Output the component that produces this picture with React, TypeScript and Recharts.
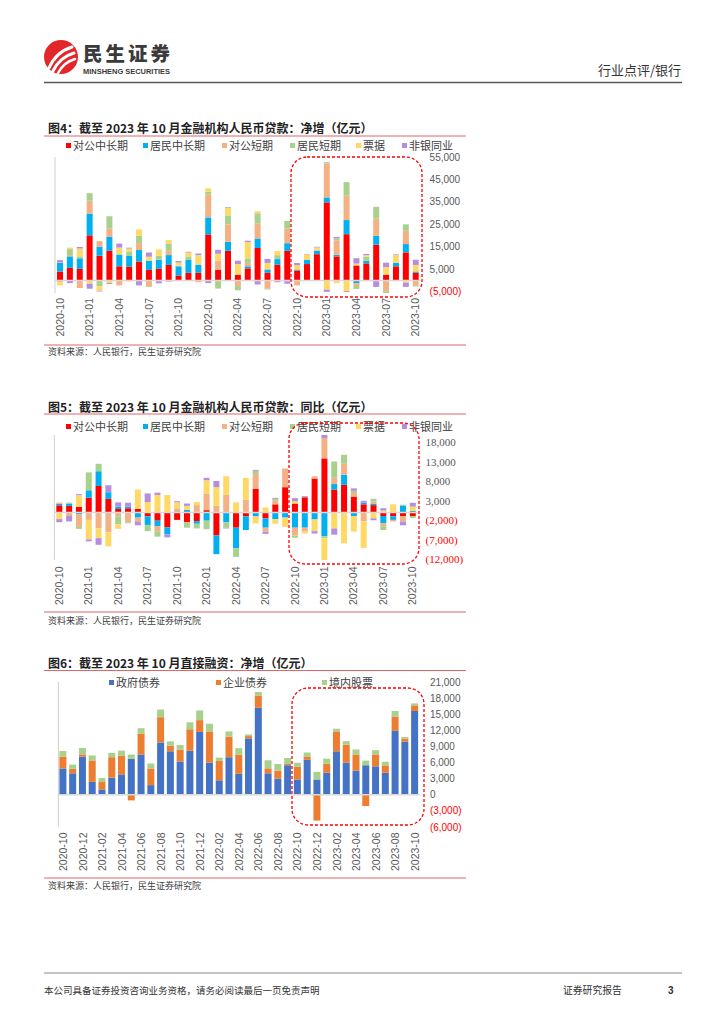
import React from 'react';
import { BarChart, Bar, XAxis, YAxis, ReferenceLine } from 'recharts';

const FONT_CN = '"Noto Sans CJK SC", "Noto Sans", sans-serif';
const FONT_NUM = '"Liberation Sans", Arial, sans-serif';
const FONT_SERIF = '"Liberation Serif", "DejaVu Serif", serif';

// categories
const months = [
  '2020-10', '2020-11', '2020-12', '2021-01', '2021-02', '2021-03', '2021-04', '2021-05', '2021-06', '2021-07',
  '2021-08', '2021-09', '2021-10', '2021-11', '2021-12', '2022-01', '2022-02', '2022-03', '2022-04', '2022-05',
  '2022-06', '2022-07', '2022-08', '2022-09', '2022-10', '2022-11', '2022-12', '2023-01', '2023-02', '2023-03',
  '2023-04', '2023-05', '2023-06', '2023-07', '2023-08', '2023-09', '2023-10',
];

const loanSeries = ['对公中长期', '居民中长期', '对公短期', '居民短期', '票据', '非银同业'];
const loanColors = ['#FF0000', '#00B0F0', '#F4B183', '#A9D18E', '#FFD966', '#B48FE0'];

// 图4 净增
const netCorpLong = [3960, 5580, 5140, 20100, 11000, 13200, 6300, 6200, 8400, 4700, 5140, 6900, 2200, 3400, 3400, 20500, 4800, 13200, 2500, 5400, 14400, 3400, 7000, 13200, 4400, 7300, 11700, 34800, 10700, 20600, 6700, 7600, 15900, 2500, 6300, 12500, 3400];
const netHouseLong = [3800, 5140, 4700, 9700, 4000, 6200, 5140, 4700, 5140, 4100, 4100, 4400, 4100, 5700, 3500, 7600, -200, 4000, -300, 900, 4300, 1500, 2500, 3400, 400, 1800, 1500, 2200, 700, 6300, -1200, 1200, 4000, -400, 1500, 3700, 600];
const netCorpShort = [-800, 600, -3400, 5700, 2500, 3800, -2200, -400, 3100, -2600, -300, 1900, -300, 0, -800, 10300, 4000, 7800, -2200, 1500, 6800, -3700, -300, 6500, -2200, -200, 300, 15100, 6500, 11000, -1300, -300, 7600, -4400, -300, 5900, -2200];
const netHouseShort = [300, 2640, 900, 3400, -2600, 5400, 300, 2000, 3200, -300, 1700, 3200, 200, 1600, 300, 1200, -3400, 4000, -1900, 2000, 4400, -300, 1760, 3400, 200, 300, 200, 600, 900, 5900, -1300, 1800, 5300, -800, 200, 2900, -500];
const netBills = [-1400, 700, 3500, -1500, -2000, -1200, 2900, 1300, 2900, 1760, 2900, 1600, 1470, 1760, 4100, 1470, 3100, 3400, 4800, 7300, 900, 2900, 1900, -300, 1760, 2200, 1000, -4100, -1200, -4700, 800, 700, -300, 3400, 3300, -1000, 2900];
const netNonBank = [1000, -1200, 700, -2200, -300, -400, 1760, 400, -2200, 1900, -1000, -500, 700, 300, 700, -1200, 1760, 300, 1500, 600, -1800, 1800, -500, -1200, 1000, 200, 300, -1000, 600, -400, 2400, 500, -2600, 2000, 300, -1900, 2300];

// 图5 同比
const yoyCorpLong = [1840, 1700, 1450, 3800, 6800, 3500, 900, 1100, 900, -1000, -2100, -3800, -1900, -2500, -2200, 600, -5900, 0, -3900, -1000, 6100, -1500, 2100, 6500, 2300, 3900, 8700, 13900, 5900, 7100, 4100, 2100, 1900, -900, -1000, -900, -900];
const yoyHouseLong = [400, 600, -500, 1900, 3800, 1700, 600, 400, -1300, -2200, -1400, -1800, 300, 700, -700, -2100, -4800, -2500, -5300, -3500, -1000, -2400, -1700, -1300, -3900, -3900, -1800, -6100, 1400, 2600, -900, 400, 400, -1900, -900, 1800, 400];
const yoyCorpShort = [300, -900, -3200, -1900, -4100, -5100, -1000, -2500, -1000, 0, -1300, 0, 600, 0, 1900, 4300, 1700, 4500, 0, 3300, 3800, -1000, 900, 4800, -2000, -1000, 600, 5200, 1600, 2800, 900, -2300, 500, -700, -400, -1400, 0];
const yoyHouseShort = [0, 250, -500, 4600, 1900, 0, -2000, -250, 0, -1600, -1400, 0, 0, -1400, -1200, -2200, 0, -1400, -2200, 0, 800, 0, 500, 0, -600, 0, 0, -500, 4200, 2300, 550, 0, 700, -1000, 0, 200, -500];
const yoyBills = [-1700, 0, 3000, -5000, -2500, -3600, -1200, 0, 5000, 2700, 4500, 4500, 1700, 1000, 800, 3400, 4800, 4800, 2600, 5600, -1800, 1300, -1200, -2400, 600, -500, -3000, -5600, -4100, -7900, -4000, -6800, -1500, 500, 2100, 0, 1100];
const yoyNonBank = [-800, -1400, 250, -500, -1700, 1800, 1100, 1000, -1000, 2200, 600, -800, 300, 600, 0, 600, 1600, -200, 0, 0, 250, -600, 250, 0, 800, 300, -600, 800, -1600, 0, 650, 500, -500, 600, 0, -1000, 1000];

// 图6 直接融资
const finSeries = ['政府债券', '企业债券', '境内股票'];
const finColors = ['#4472C4', '#ED7D31', '#A9D18E'];
const govBonds = [4900, 4000, 7100, 2400, 1000, 3200, 3800, 6700, 7500, 1800, 9750, 8100, 6200, 8200, 11700, 6000, 2700, 7000, 3900, 10500, 16200, 4000, 3000, 5500, 2850, 6500, 2850, 4100, 8100, 6000, 4500, 5500, 5300, 4100, 11900, 9900, 15600];
const corpBonds = [2200, 870, 430, 4000, 1370, 3800, 3500, -1050, 3900, 3100, 4700, 1050, 2200, 4000, 2200, 5800, 3600, 3800, 3600, 430, 2300, 930, 1500, 250, 2360, 620, -4800, 1700, 3700, 3300, 3000, -2100, 2200, 1370, 2600, 560, 1050];
const equities = [1050, 750, 1180, 930, 750, 800, 930, 800, 1000, 930, 1430, 800, 870, 1300, 1800, 1430, 620, 1000, 1180, 300, 620, 1500, 1240, 1100, 750, 750, 1430, 930, 500, 680, 930, 870, 800, 680, 1100, 310, 370];

const netTicks = [-5000, 5000, 15000, 25000, 35000, 45000, 55000];
const yoyTicks = [-12000, -7000, -2000, 3000, 8000, 13000, 18000];
const finTicks = [-6000, -3000, 0, 3000, 6000, 9000, 12000, 15000, 18000, 21000];

const sourceText = '资料来源：人民银行，民生证券研究院';

const buildRows = (cols: number[][]) =>
  months.map((m, i) => {
    const row: Record<string, string | number> = { month: m };
    cols.forEach((c, j) => {
      row['s' + j] = c[i];
    });
    return row;
  });

const netRows = buildRows([netCorpLong, netHouseLong, netCorpShort, netHouseShort, netBills, netNonBank]);
const yoyRows = buildRows([yoyCorpLong, yoyHouseLong, yoyCorpShort, yoyHouseShort, yoyBills, yoyNonBank]);
const finRows = buildRows([govBonds, corpBonds, equities]);

const fmt = (v: number) => {
  const s = Math.abs(v).toString().replace(/\B(?=(\d{3})+(?!\d))/g, ',');
  return v < 0 ? `(${s})` : s;
};

type ChartProps = {
  data: Record<string, string | number>[];
  count: number;
  colors: string[];
  domain: [number, number];
  ticks: number[];
  top: number;
  width: number;
  height: number;
  margin: { top: number; right: number; bottom: number; left: number };
  xHeight: number;
  interval: number;
  barSize: number;
  tickFont: string;
  tickFontSize: number;
  tickDx: number;
  labelDy: number;
};

function StackChart(p: ChartProps) {
  const yTick = (props: any) => {
    const v = Number(props.payload.value);
    return (
      <text x={props.x + p.tickDx} y={props.y} dy="0.35em" textAnchor="start" fontFamily={p.tickFont}
        fontSize={p.tickFontSize} fill={v < 0 ? '#FF0000' : '#595959'}>
        {fmt(v)}
      </text>
    );
  };
  const xTick = (props: any) => {
    const { x, y, payload } = props;
    return (
      <text transform={`translate(${x},${y + p.labelDy}) rotate(-90)`} x={0} y={0} dy="0.35em" textAnchor="end"
        fontFamily={FONT_NUM} fontSize={10.5} fill="#595959">
        {payload.value}
      </text>
    );
  };
  const keys = Array.from({ length: p.count }, (_, i) => 's' + i);
  return (
    <div style={{ position: 'absolute', left: 0, top: p.top, width: p.width, height: p.height }}>
      <BarChart width={p.width} height={p.height} data={p.data} margin={p.margin} stackOffset="sign">
        <XAxis dataKey="month" interval={p.interval} axisLine={false} tickLine={false} height={p.xHeight} tick={xTick} />
        <YAxis yAxisId="l" orientation="left" width={1} domain={p.domain} ticks={p.ticks} tick={false}
          tickLine={false} axisLine={{ stroke: '#d0d0d0' }} />
        <YAxis yAxisId="r" orientation="right" width={50} domain={p.domain} ticks={p.ticks} interval={0}
          tickLine={false} axisLine={false} tick={yTick} />
        <ReferenceLine yAxisId="r" y={0} stroke="#d9d9d9" strokeWidth={1.5} />
        {keys.map((k, i) => (
          <Bar key={k} yAxisId="r" dataKey={k} stackId="s" fill={p.colors[i]} barSize={p.barSize}
            isAnimationActive={false} />
        ))}
      </BarChart>
    </div>
  );
}

function Legend({ names, colors, xs, y }: { names: string[]; colors: string[]; xs: number[]; y: number }) {
  return (
    <>
      {names.map((n, i) => (
        <div key={n} style={{ position: 'absolute', left: xs[i], top: y - 5.5, height: 11, lineHeight: '11px', display: 'flex', alignItems: 'center',
          fontFamily: FONT_CN, fontSize: 11, color: '#404040', whiteSpace: 'nowrap' }}>
          <span style={{ display: 'inline-block', width: 5, height: 5, background: colors[i], marginRight: 2 }} />
          {n}
        </div>
      ))}
    </>
  );
}

function Title({ text, y }: { text: string; y: number }) {
  return (
    <div style={{ position: 'absolute', left: 48, top: y - 9, height: 18, lineHeight: '18px', fontFamily: FONT_CN,
      fontSize: 12, fontWeight: 700, color: '#222', whiteSpace: 'nowrap' }}>
      {text}
    </div>
  );
}

function Source({ y }: { y: number }) {
  return (
    <div style={{ position: 'absolute', left: 48, top: y - 7, height: 14, lineHeight: '14px', fontFamily: FONT_CN,
      fontSize: 9, color: '#404040', whiteSpace: 'nowrap' }}>
      {sourceText}
    </div>
  );
}

const loanLegendX = [66, 143, 222, 290, 356, 402];
const finLegendX = [109, 216, 322];

export default function App() {
  return (
    <div style={{ position: 'absolute', left: 0, top: 0, width: 724, height: 1024, background: '#fff', overflow: 'hidden' }}>
      {/* header */}
      <svg width={724} height={1024} style={{ position: 'absolute', left: 0, top: 0 }}>
        <circle cx={61} cy={57} r={17} fill="#E3262A" />
        <path d="M49 68 Q56 52 72 47" stroke="#fff" strokeWidth={3} fill="none" strokeLinecap="round" />
        <path d="M53 71 Q60 57 74 53" stroke="#fff" strokeWidth={3} fill="none" strokeLinecap="round" />
        <path d="M58 73 Q64 62 75 59" stroke="#fff" strokeWidth={2.5} fill="none" strokeLinecap="round" />
        <text x={83} y={61} fontFamily={FONT_CN} fontWeight={900} fontSize={19.5} fill="#3a3a3a" textLength={87}>民生证券</text>
        <text x={83} y={74} fontFamily={FONT_NUM} fontWeight={700} fontSize={7.5} fill="#3a3a3a" textLength={87}
          lengthAdjust="spacingAndGlyphs">MINSHENG SECURITIES</text>
        <text x={681} y={75} textAnchor="end" fontFamily={FONT_CN} fontSize={13} fill="#333">行业点评/银行</text>
        <line x1={44} x2={682} y1={82.5} y2={82.5} stroke="#5a5a5a" strokeWidth={1.5} />

        <line x1={44} x2={466} y1={136} y2={136} stroke="#E06666" strokeWidth={1} />
        <line x1={44} x2={466} y1={345} y2={345} stroke="#E06666" strokeWidth={1} />
        <line x1={44} x2={466} y1={414} y2={414} stroke="#E06666" strokeWidth={1} />
        <line x1={44} x2={466} y1={612} y2={612} stroke="#E06666" strokeWidth={1} />
        <line x1={44} x2={466} y1={670.5} y2={670.5} stroke="#E06666" strokeWidth={1} />
        <line x1={44} x2={466} y1={878} y2={878} stroke="#E06666" strokeWidth={1} />

        <line x1={44} x2={682} y1={973} y2={973} stroke="#8a8a8a" strokeWidth={1} />
        <text x={44} y={994} fontFamily={FONT_CN} fontSize={9.5} fill="#333">本公司具备证券投资咨询业务资格，请务必阅读最后一页免责声明</text>
        <text x={563} y={994} fontFamily={FONT_CN} fontSize={9.8} fill="#333">证券研究报告</text>
        <text x={668} y={994} fontFamily={FONT_NUM} fontSize={10} fontWeight={700} fill="#333">3</text>
      </svg>

      <Title text="图4：截至 2023 年 10 月金融机构人民币贷款：净增（亿元）" y={128} />
      <Legend names={loanSeries} colors={loanColors} xs={loanLegendX} y={145} />
      <StackChart data={netRows} count={6} colors={loanColors} domain={[-5000, 55000]} ticks={netTicks}
        top={150} width={480} height={200} margin={{ top: 7, right: 9.4, bottom: 7, left: 54 }} xHeight={50}
        interval={2} barSize={6} tickFont={FONT_NUM} tickFontSize={10} tickDx={1} labelDy={-3} />
      <Source y={352} />

      <Title text="图5：截至 2023 年 10 月金融机构人民币贷款：同比（亿元）" y={407} />
      <Legend names={loanSeries} colors={loanColors} xs={loanLegendX} y={426.5} />
      <StackChart data={yoyRows} count={6} colors={loanColors} domain={[-12000, 18000]} ticks={yoyTicks}
        top={420} width={480} height={200} margin={{ top: 15, right: 12.4, bottom: 5, left: 53.3 }} xHeight={55}
        interval={2} barSize={6} tickFont={FONT_SERIF} tickFontSize={11} tickDx={0} labelDy={-1.5} />
      <Source y={621} />

      <Title text="图6：截至 2023 年 10 月直接融资：净增（亿元）" y={663} />
      <Legend names={finSeries} colors={finColors} xs={finLegendX} y={682.5} />
      <StackChart data={finRows} count={3} colors={finColors} domain={[-6000, 21000]} ticks={finTicks}
        top={670} width={480} height={220} margin={{ top: 12, right: 10.1, bottom: 8, left: 57.4 }} xHeight={55}
        interval={1} barSize={7} tickFont={FONT_NUM} tickFontSize={10} tickDx={2} labelDy={-2.5} />
      <Source y={886} />

      {/* highlight boxes */}
      <svg width={724} height={1024} style={{ position: 'absolute', left: 0, top: 0, pointerEvents: 'none' }}>
        <rect x={291} y={157} width={131} height={140} rx={16} ry={16} fill="none" stroke="#FF0000" strokeWidth={1.3} strokeDasharray="3 2" />
        <rect x={289} y={423} width={130} height={141} rx={16} ry={16} fill="none" stroke="#FF0000" strokeWidth={1.3} strokeDasharray="3 2" />
        <rect x={292} y={688} width={132} height={137} rx={16} ry={16} fill="none" stroke="#FF0000" strokeWidth={1.3} strokeDasharray="3 2" />
      </svg>
    </div>
  );
}
